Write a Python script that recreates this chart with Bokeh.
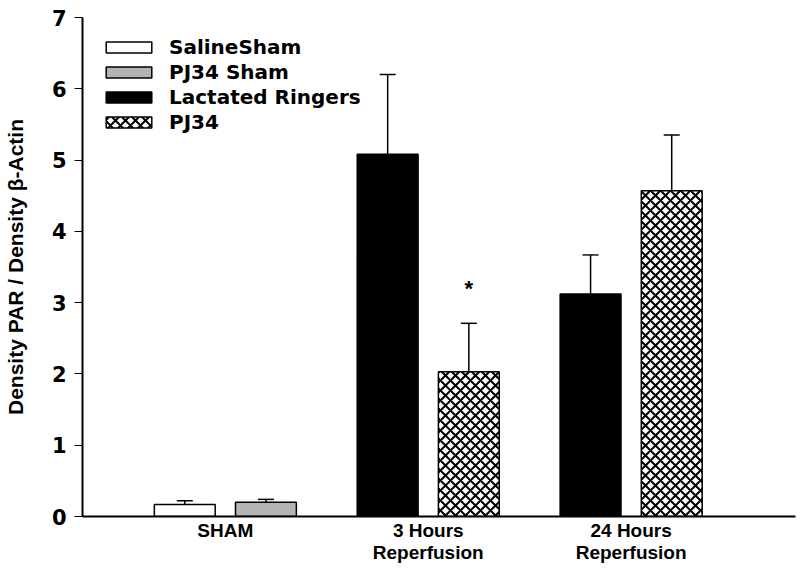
from bokeh.plotting import figure
from bokeh.models import ColumnDataSource, Whisker, TeeHead, FixedTicker, Range1d
from bokeh.embed import file_html
from bokeh.resources import INLINE
from bokeh.core.properties import value

# ---- data ----
group_pos = [1, 2, 3]
group_labels = ["SHAM", "3 Hours\nReperfusion", "24 Hours\nReperfusion"]
y_ticks = [0, 1, 2, 3, 4, 5, 6, 7]

saline_sham_group = [1]
saline_sham_mean = [0.17]
saline_sham_sem = [0.05]

pj34_sham_group = [1]
pj34_sham_mean = [0.20]
pj34_sham_sem = [0.04]

lactated_group = [2, 3]
lactated_mean = [5.08, 3.12]
lactated_sem = [1.12, 0.55]

pj34_group = [2, 3]
pj34_mean = [2.03, 4.57]
pj34_sem = [0.68, 0.78]

star_group = [2]
star_y = [3.2]

FONT = "Liberation Sans"
WIDE = "DejaVu Sans"

p = figure(width=800, height=570, output_backend="svg", toolbar_location=None,
           x_range=Range1d(0.296, 3.81), y_range=Range1d(0, 7),
           min_border_left=82, min_border_right=5, min_border_top=17,
           min_border_bottom=54)
p.outline_line_color = None
p.grid.grid_line_color = None
p.background_fill_color = "white"

W = 0.30
OFF = 0.2


def add_series(groups, means, sems, offset, label, **style):
    xs = [g + offset for g in groups]
    src = ColumnDataSource(dict(x=xs, top=means,
                                upper=[m + s for m, s in zip(means, sems)]))
    p.vbar(x="x", top="top", bottom=0, width=W, source=src,
           line_color="black", line_width=1.5, legend_label=label, **style)
    wk = Whisker(base="x", upper="upper", lower="top", source=src,
                 upper_head=TeeHead(size=16, line_width=1.5, line_color="black"),
                 lower_head=None, line_width=1.5, line_color="black")
    p.add_layout(wk)


add_series(saline_sham_group, saline_sham_mean, saline_sham_sem, -OFF,
           "SalineSham", fill_color="white")
add_series(pj34_sham_group, pj34_sham_mean, pj34_sham_sem, OFF,
           "PJ34 Sham", fill_color="#b4b4b4")
add_series(lactated_group, lactated_mean, lactated_sem, -OFF,
           "Lactated Ringers", fill_color="black")
add_series(pj34_group, pj34_mean, pj34_sem, OFF,
           "PJ34", fill_color="white", hatch_pattern="diagonal_cross",
           hatch_color="black", hatch_scale=10, hatch_weight=2)

p.text(x=[g + OFF for g in star_group], y=star_y, text=["*"],
       text_align="center", text_baseline="middle",
       text_font=value(FONT), text_font_size="22px", text_font_style="bold",
       text_color="black")

# axes
p.yaxis.ticker = FixedTicker(ticks=y_ticks)
p.yaxis.axis_label = "Density PAR / Density β-Actin"
p.yaxis.axis_label_text_font = FONT
p.yaxis.axis_label_text_font_size = "21px"
p.yaxis.axis_label_text_font_style = "bold"
p.yaxis.axis_label_text_color = "black"
p.yaxis.axis_label_standoff = 22
p.yaxis.major_label_text_font = WIDE
p.yaxis.major_label_text_font_size = "21px"
p.yaxis.major_label_text_font_style = "bold"
p.yaxis.major_label_text_color = "black"
p.yaxis.major_label_standoff = 8
p.yaxis.major_tick_in = 0
p.yaxis.major_tick_out = 8
p.yaxis.minor_tick_line_color = None
p.yaxis.axis_line_width = 2
p.yaxis.axis_line_color = "black"
p.yaxis.major_tick_line_width = 1
p.yaxis.major_tick_line_color = "black"

p.xaxis.ticker = FixedTicker(ticks=group_pos)
p.xaxis.major_label_overrides = {g: l for g, l in zip(group_pos, group_labels)}
p.xaxis.major_label_text_font = FONT
p.xaxis.major_label_text_font_size = "19px"
p.xaxis.major_label_text_font_style = "bold"
p.xaxis.major_label_text_color = "black"
p.xaxis.major_label_text_line_height = 1.05
p.xaxis.major_tick_line_color = None
p.xaxis.major_tick_in = 0
p.xaxis.major_tick_out = 0
p.xaxis.minor_tick_line_color = None
p.xaxis.minor_tick_out = 0
p.xaxis.axis_line_width = 2
p.xaxis.axis_line_color = "black"
p.xaxis.major_label_standoff = 3

# legend
lg = p.legend[0]
lg.location = "top_left"
lg.margin = 18
lg.padding = 0
lg.border_line_color = None
lg.background_fill_alpha = 0
lg.glyph_width = 57
lg.glyph_height = 14
lg.label_standoff = 12
lg.label_height = 20
lg.spacing = 1
lg.label_text_font = WIDE
lg.label_text_font_size = "20px"
lg.label_text_font_style = "bold"
lg.label_text_color = "black"

open("out.html", "w").write(file_html(p, INLINE))
